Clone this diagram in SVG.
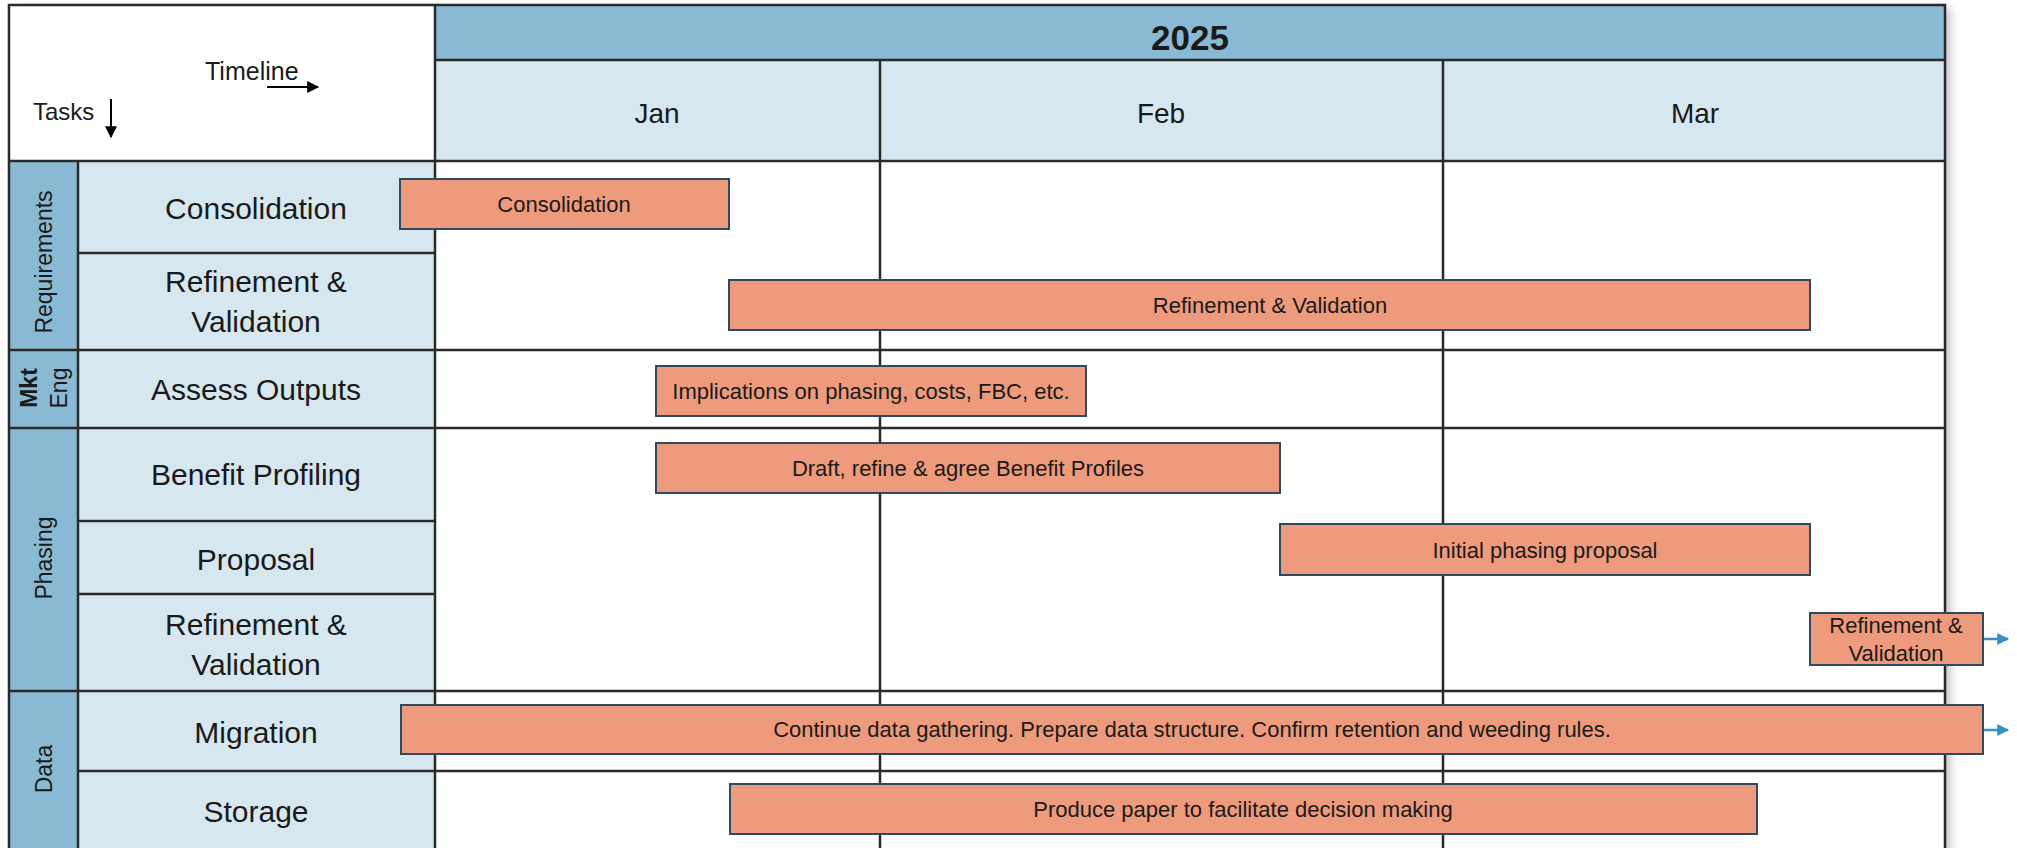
<svg xmlns="http://www.w3.org/2000/svg" width="2017" height="848" viewBox="0 0 2017 848">
  <defs>
    <filter id="shadow" x="-5%" y="-5%" width="110%" height="110%">
      <feDropShadow dx="5" dy="3" stdDeviation="5" flood-color="#000" flood-opacity="0.25"/>
    </filter>
    <marker id="blueHead" viewBox="0 0 10 10" refX="9" refY="5" markerWidth="13" markerHeight="12" markerUnits="userSpaceOnUse" orient="auto">
      <path d="M0,0 L10,5 L0,10 Z" fill="#3b8fc4"/>
    </marker>
    <marker id="blackHead" viewBox="0 0 10 10" refX="9" refY="5" markerWidth="14" markerHeight="12" markerUnits="userSpaceOnUse" orient="auto">
      <path d="M0,0 L10,5 L0,10 Z" fill="#000"/>
    </marker>
  </defs>
  <style>
    text { font-family: "Liberation Sans", Arial, sans-serif; fill: #1a1a1a; }
    .grid { stroke: #2a2a2a; stroke-width: 2.5; fill: none; }
    .dark { fill: #8ab9d4; }
    .light { fill: #d7e7f0; }
    .task { font-size: 30px; text-anchor: middle; }
    .cat { font-size: 23px; text-anchor: middle; }
    .month { font-size: 28px; text-anchor: middle; }
    .bar rect { fill: #ee9a7c; stroke: #2f4a5f; stroke-width: 2; }
    .bar text { font-size: 22px; text-anchor: middle; }
    .conn { stroke: #3b8fc4; stroke-width: 2.5; fill: none; }
  </style>

  <rect x="0" y="0" width="2017" height="848" fill="#ffffff"/>

  <!-- chart background with shadow -->
  <rect x="9" y="5" width="1936" height="860" fill="#ffffff" filter="url(#shadow)"/>

  <!-- header -->
  <g id="header">
    <rect x="9" y="5" width="426" height="156" fill="#ffffff"/>
    <text x="205" y="80" font-size="25">Timeline</text>
    <line x1="267" y1="87" x2="318" y2="87" stroke="#000" stroke-width="2" marker-end="url(#blackHead)"/>
    <text x="33" y="120" font-size="24">Tasks</text>
    <line x1="111" y1="99" x2="111" y2="137" stroke="#000" stroke-width="2" marker-end="url(#blackHead)"/>
  </g>

  <g id="year">
    <rect class="dark" x="435" y="5" width="1510" height="55"/>
    <text x="1190" y="50" font-size="35" font-weight="bold" text-anchor="middle">2025</text>
  </g>

  <g id="months">
    <rect class="light" x="435" y="60" width="1510" height="101"/>
    <text class="month" x="657" y="123">Jan</text>
    <text class="month" x="1161" y="123">Feb</text>
    <text class="month" x="1695" y="123">Mar</text>
  </g>

  <!-- left columns -->
  <g id="categories">
    <rect class="dark" x="9" y="161" width="69" height="700"/>
    <text class="cat" transform="translate(52,262) rotate(-90)">Requirements</text>
    <text class="cat" font-weight="bold" transform="translate(37,388) rotate(-90)">Mkt</text>
    <text class="cat" transform="translate(67,388) rotate(-90)">Eng</text>
    <text class="cat" transform="translate(52,558) rotate(-90)">Phasing</text>
    <text class="cat" transform="translate(52,769) rotate(-90)">Data</text>
  </g>

  <g id="tasks">
    <rect class="light" x="78" y="161" width="357" height="700"/>
    <text class="task" x="256" y="219">Consolidation</text>
    <text class="task" x="256" y="292">Refinement &amp;</text>
    <text class="task" x="256" y="332">Validation</text>
    <text class="task" x="256" y="400">Assess Outputs</text>
    <text class="task" x="256" y="485">Benefit Profiling</text>
    <text class="task" x="256" y="570">Proposal</text>
    <text class="task" x="256" y="635">Refinement &amp;</text>
    <text class="task" x="256" y="675">Validation</text>
    <text class="task" x="256" y="743">Migration</text>
    <text class="task" x="256" y="822">Storage</text>
  </g>

  <!-- grid lines -->
  <g id="gridlines" class="grid">
    <rect x="9" y="5" width="1936" height="860"/>
    <line x1="435" y1="60" x2="1945" y2="60"/>
    <line x1="9" y1="161" x2="1945" y2="161"/>
    <line x1="435" y1="5" x2="435" y2="848"/>
    <line x1="880" y1="60" x2="880" y2="848"/>
    <line x1="1443" y1="60" x2="1443" y2="848"/>
    <line x1="78" y1="161" x2="78" y2="848"/>
    <line x1="78" y1="253" x2="435" y2="253"/>
    <line x1="9" y1="350" x2="1945" y2="350"/>
    <line x1="9" y1="428" x2="1945" y2="428"/>
    <line x1="78" y1="521" x2="435" y2="521"/>
    <line x1="78" y1="594" x2="435" y2="594"/>
    <line x1="9" y1="691" x2="1945" y2="691"/>
    <line x1="78" y1="771" x2="1945" y2="771"/>
  </g>

  <!-- bars -->
  <g id="bar-consolidation" class="bar">
    <rect x="400" y="179" width="329" height="50"/>
    <text x="564" y="212">Consolidation</text>
  </g>
  <g id="bar-req-refinement" class="bar">
    <rect x="729" y="280" width="1081" height="50"/>
    <text x="1270" y="313">Refinement &amp; Validation</text>
  </g>
  <g id="bar-implications" class="bar">
    <rect x="656" y="366" width="430" height="50"/>
    <text x="871" y="399">Implications on phasing, costs, FBC, etc.</text>
  </g>
  <g id="bar-benefit" class="bar">
    <rect x="656" y="443" width="624" height="50"/>
    <text x="968" y="476">Draft, refine &amp; agree Benefit Profiles</text>
  </g>
  <g id="bar-proposal" class="bar">
    <rect x="1280" y="524" width="530" height="51"/>
    <text x="1545" y="558">Initial phasing proposal</text>
  </g>
  <g id="bar-phasing-refinement" class="bar">
    <rect x="1810" y="613" width="173" height="52"/>
    <text x="1896" y="633">Refinement &amp;</text>
    <text x="1896" y="661">Validation</text>
  </g>
  <g id="bar-migration" class="bar">
    <rect x="401" y="705" width="1582" height="49"/>
    <text x="1192" y="737">Continue data gathering. Prepare data structure. Confirm retention and weeding rules.</text>
  </g>
  <g id="bar-storage" class="bar">
    <rect x="730" y="784" width="1027" height="50"/>
    <text x="1243" y="817">Produce paper to facilitate decision making</text>
  </g>

  <!-- connectors -->
  <g id="connectors">
    <line class="conn" x1="1984" y1="639" x2="2008" y2="639" marker-end="url(#blueHead)"/>
    <line class="conn" x1="1984" y1="730" x2="2008" y2="730" marker-end="url(#blueHead)"/>
  </g>
</svg>
